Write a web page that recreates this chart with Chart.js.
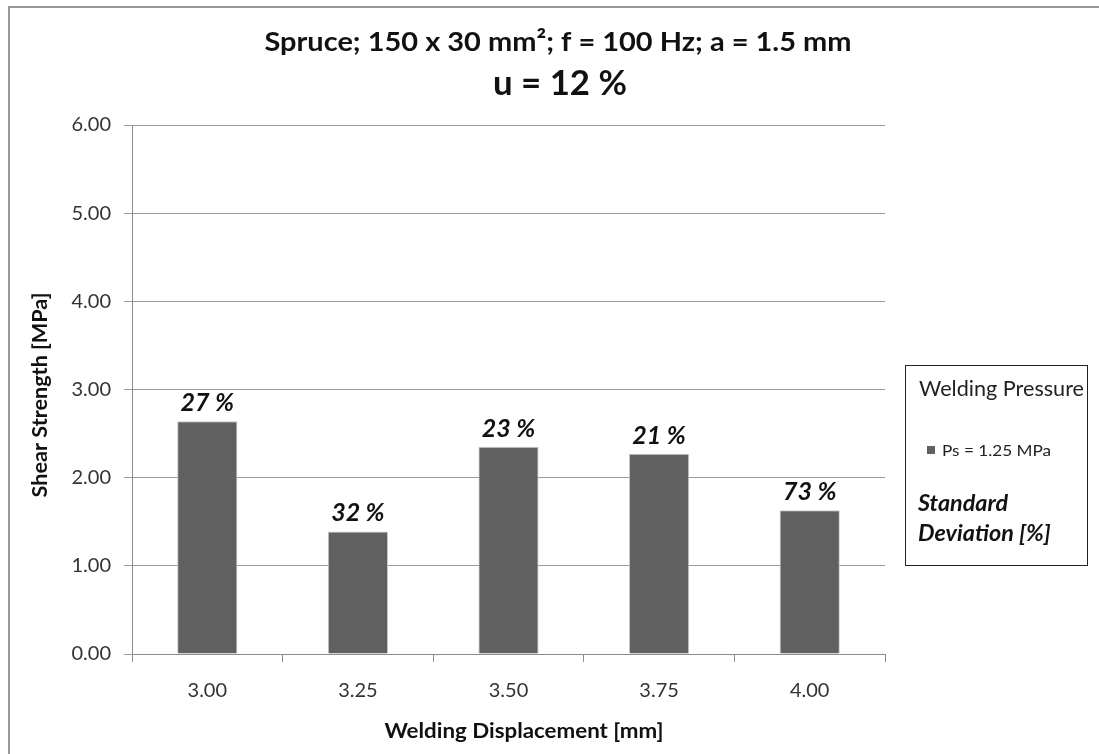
<!DOCTYPE html>
<html><head><meta charset="utf-8">
<script src="https://cdn.jsdelivr.net/npm/chart.js@4"></script>
<style>
html,body{margin:0;padding:0;background:#fff;overflow:hidden}
#wrap{position:relative;width:1099px;height:754px}
#frame{position:absolute;left:8px;top:6px;width:1200px;height:900px;border-left:2px solid #9a9a9a;border-top:2px solid #9a9a9a;box-sizing:border-box}
canvas{position:absolute;left:0;top:0}
</style></head>
<body><div id="wrap"><div id="frame"></div><canvas id="c" width="1099" height="754"></canvas></div>
<script>
const categories = ["3.00", "3.25", "3.50", "3.75", "4.00"];
const shearStrength = [2.64, 1.39, 2.35, 2.27, 1.63];
const stdDevLabels = ["27 %", "32 %", "23 %", "21 %", "73 %"];
const yTicks = [0, 1, 2, 3, 4, 5, 6];
const seriesName = "Ps = 1.25 MPa";
const legendTitle = "Welding Pressure";
const legendNote = ["Standard", "Deviation [%]"];
const titleLines = ["Spruce; 150 x 30 mm\u00B2; f = 100 Hz; a = 1.5 mm", "u = 12 %"];
const xTitle = "Welding Displacement [mm]";
const yTitle = "Shear Strength [MPa]";

const FONT = "Lato, 'Open Sans', sans-serif";
const BAR = "#606060";

function fitText(ctx, text, x, y, w) {
  const m = ctx.measureText(text).width;
  ctx.save();
  ctx.translate(x, y);
  ctx.scale(w / m, 1);
  ctx.fillText(text, 0, 0);
  ctx.restore();
}

const overlay = {
  id: 'overlay',
  afterDraw(chart) {
    const ctx = chart.ctx;
    ctx.save();
    ctx.fillStyle = '#111';
    ctx.textAlign = 'center';
    ctx.textBaseline = 'middle';
    ctx.font = `bold 27px ${FONT}`;
    fitText(ctx, titleLines[0], 558, 42, 587);
    ctx.font = `bold 35px ${FONT}`;
    fitText(ctx, titleLines[1], 560, 84, 134);
    // axis titles
    ctx.font = `bold 21px ${FONT}`;
    fitText(ctx, xTitle, 524, 731, 279);
    ctx.save();
    ctx.translate(40, 395);
    ctx.rotate(-Math.PI / 2);
    fitText(ctx, yTitle, 0, 0, 205);
    ctx.restore();
    // data labels
    const meta = chart.getDatasetMeta(0);
    ctx.font = `italic bold 25px ${FONT}`;
    ctx.textBaseline = 'alphabetic';
    meta.data.forEach((el, i) => {
      ctx.fillText(stdDevLabels[i], el.x, el.y - 10);
    });
    // legend box
    ctx.strokeStyle = '#222';
    ctx.lineWidth = 1;
    ctx.strokeRect(905.5, 365.5, 182, 200);
    ctx.textAlign = 'left';
    ctx.textBaseline = 'middle';
    ctx.fillStyle = '#222';
    ctx.font = `21px ${FONT}`;
    fitText(ctx, legendTitle, 919, 389, 165);
    ctx.fillStyle = BAR;
    ctx.fillRect(927, 446, 8, 8);
    ctx.fillStyle = '#222';
    ctx.font = `16px ${FONT}`;
    fitText(ctx, seriesName, 942, 451, 109);
    ctx.fillStyle = '#111';
    ctx.font = `italic bold 22px ${FONT}`;
    fitText(ctx, legendNote[0], 918, 504, 90);
    const w2 = ctx.measureText(legendNote[1]).width * 90 / ctx.measureText(legendNote[0]).width;
    fitText(ctx, legendNote[1], 918, 534, w2);
    ctx.restore();
  }
};

new Chart(document.getElementById('c'), {
  type: 'bar',
  data: {
    labels: categories,
    datasets: [{
      label: seriesName,
      data: shearStrength,
      backgroundColor: BAR,
      borderColor: '#c8c8c8',
      borderWidth: 1,
      barPercentage: 0.4,
      categoryPercentage: 1.0
    }]
  },
  options: {
    responsive: false,
    animation: false,
    devicePixelRatio: 1,
    layout: { padding: { left: 0, top: 125, right: 214, bottom: 0 } },
    plugins: { legend: { display: false }, tooltip: { enabled: false }, title: { display: false } },
    scales: {
      x: {
        offset: true,
        afterFit(s) { s.height = 100; },
        grid: { display: true, drawOnChartArea: false, offset: true, tickLength: 8, color: '#8c8c8c' },
        border: { color: '#8c8c8c', width: 1 },
        ticks: { color: '#333', font: { family: FONT, size: 20 }, padding: 17 },
        title: { display: false }
      },
      y: {
        min: 0, max: 6,
        afterFit(s) { s.width = 132; },
        afterBuildTicks(s) { s.ticks = yTicks.map(v => ({ value: v })); },
        grid: { color: '#9a9a9a', tickLength: 8 },
        border: { color: '#8c8c8c', width: 1 },
        ticks: { color: '#333', font: { family: FONT, size: 20 }, padding: 13, callback: v => Number(v).toFixed(2) },
        title: { display: false }
      }
    }
  },
  plugins: [overlay]
});
</script></body></html>
